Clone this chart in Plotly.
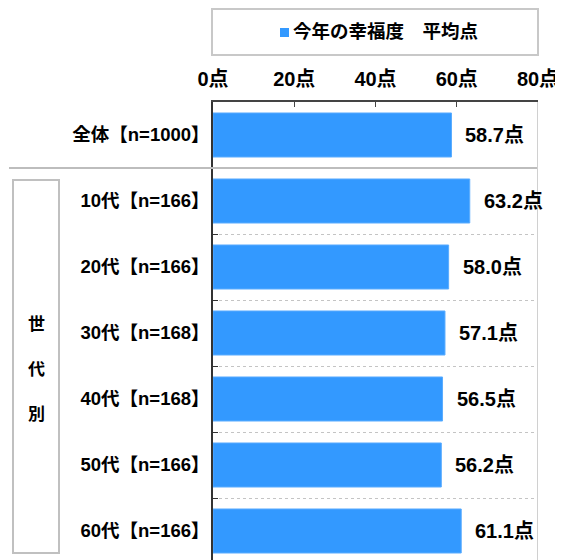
import plotly.graph_objects as go

categories = ["全体【n=1000】", "10代【n=166】", "20代【n=166】", "30代【n=168】",
              "40代【n=168】", "50代【n=166】", "60代【n=166】"]
values = [58.7, 63.2, 58.0, 57.1, 56.5, 56.2, 61.1]
x_tickvals = [0, 20, 40, 60, 80]
x_ticktext = ["0点", "20点", "40点", "60点", "80点"]
series_name = "今年の幸福度　平均点"
group_label = ["世", "代", "別"]
value_suffix = "点"

# The page body has an 8px margin; draw the figure so that it lands on the
# target pixels of the 563x560 window.
OFF = 8
W, H = 563 - OFF, 560 - OFF
L, R, T, B = 213 - OFF, 25, 102 - OFF, 0
PW = W - L - R
PH = H - T - B
ROW = 66.0

FONT = "Liberation Sans, Arial, Noto Sans CJK JP, sans-serif"
BLUE = "#3399FF"

def px2paper_x(px):
    return (px - OFF - L) / PW

def px2paper_y(py):
    return (H - B - (py - OFF)) / PH

fig = go.Figure()
fig.add_trace(go.Bar(
    x=values, y=categories, orientation="h",
    marker=dict(color=BLUE, line=dict(color="#5aacff", width=1)),
    name=series_name, showlegend=False, hoverinfo="skip",
))

annotations = []
for c, v in zip(categories, values):
    annotations.append(dict(
        x=v, y=c, xref="x", yref="y", text=f"<b>{v:.1f}{value_suffix}</b>",
        showarrow=False, xanchor="left", yanchor="middle", xshift=12,
        font=dict(family=FONT, size=20, color="#000"),
    ))

# legend box text
annotations.append(dict(
    x=px2paper_x(385), y=px2paper_y(32), xref="paper", yref="paper",
    text=f"<b>{series_name}</b>", showarrow=False, xanchor="center", yanchor="middle",
    font=dict(family=FONT, size=18.5, color="#000"),
))

# group label
for ch, py in zip(group_label, [324, 369, 414]):
    annotations.append(dict(
        x=px2paper_x(36), y=px2paper_y(py), xref="paper", yref="paper",
        text=f"<b>{ch}</b>", showarrow=False, xanchor="center", yanchor="middle",
        font=dict(family=FONT, size=17, color="#000"),
    ))

shapes = [
    # legend box
    dict(type="rect", xref="paper", yref="paper",
         x0=px2paper_x(212), x1=px2paper_x(538), y0=px2paper_y(55), y1=px2paper_y(9),
         line=dict(color="#c8c8c8", width=2), fillcolor="rgba(0,0,0,0)"),
    # legend swatch
    dict(type="rect", xref="paper", yref="paper",
         x0=px2paper_x(280), x1=px2paper_x(289), y0=px2paper_y(37), y1=px2paper_y(28),
         line=dict(width=0), fillcolor=BLUE),
    # group box
    dict(type="rect", xref="paper", yref="paper",
         x0=px2paper_x(13), x1=px2paper_x(59), y0=px2paper_y(553), y1=px2paper_y(180),
         line=dict(color="#c0c0c0", width=2), fillcolor="rgba(0,0,0,0)"),
    # separator between total and age groups
    dict(type="line", xref="paper", yref="y",
         x0=px2paper_x(9), x1=1, y0=0.5, y1=0.5,
         line=dict(color="#bdbdbd", width=2)),
    # right border
    dict(type="line", xref="x", yref="paper",
         x0=80, x1=80, y0=0, y1=1,
         line=dict(color="#d0d0d0", width=2)),
]

fig.update_layout(
    width=W, height=H,
    margin=dict(l=L, r=R, t=T, b=B, pad=0),
    paper_bgcolor="white", plot_bgcolor="white",
    bargap=0.333,
    showlegend=False,
    annotations=annotations,
    shapes=shapes,
    font=dict(family=FONT, color="#000"),
)

fig.update_xaxes(
    side="top", range=[0, 80], tickvals=x_tickvals,
    ticktext=[f"<b>{t}</b>" for t in x_ticktext],
    tickfont=dict(family=FONT, size=20, color="#000"),
    showline=True, linecolor="#444", linewidth=1.5,
    ticks="inside", ticklen=5, tickcolor="#444", tickwidth=1,
    showgrid=False, zeroline=False, ticklabelstandoff=6,
)

fig.update_yaxes(
    categoryorder="array", categoryarray=categories,
    tickvals=categories, ticktext=[f"<b>{c}</b>" for c in categories],
    range=[(PH / ROW) - 0.5, -0.5],
    tickfont=dict(family=FONT, size=18.5, color="#000"),
    showline=True, linecolor="#333", linewidth=1.5,
    ticks="inside", ticklen=5, tickcolor="#333", tickwidth=1,
    tickson="boundaries",
    showgrid=True, gridcolor="#c4c4c4", griddash="dot", gridwidth=1,
    zeroline=False, ticklabelstandoff=-2,
)

fig.write_html("out.html")
